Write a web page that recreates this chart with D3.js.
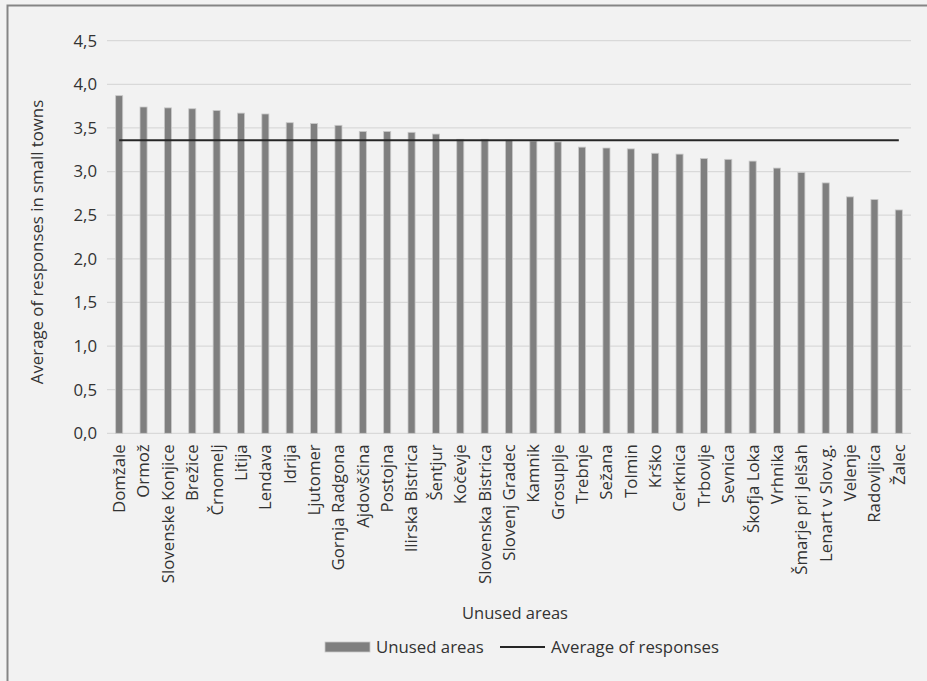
<!DOCTYPE html>
<html>
<head>
<meta charset="utf-8">
<script src="https://cdn.jsdelivr.net/npm/d3@7"></script>
<style>
  body { margin: 0; background: #fff; }
  svg { display: block; font-family: "Open Sans", "Noto Sans", sans-serif; }
</style>
</head>
<body>
<div id="chart"></div>
<script>
// Towns (x categories) and their average responses
const towns = ["Domžale", "Ormož", "Slovenske Konjice", "Brežice", "Črnomelj", "Litija", "Lendava",
    "Idrija", "Ljutomer", "Gornja Radgona", "Ajdovščina", "Postojna", "Ilirska Bistrica", "Šentjur",
    "Kočevje", "Slovenska Bistrica", "Slovenj Gradec", "Kamnik", "Grosuplje", "Trebnje", "Sežana",
    "Tolmin", "Krško", "Cerknica", "Trbovlje", "Sevnica", "Škofja Loka", "Vrhnika",
    "Šmarje pri Jelšah", "Lenart v Slov.g.", "Velenje", "Radovljica", "Žalec"];
const unusedAreas = [3.87, 3.74, 3.73, 3.72, 3.70, 3.67, 3.66, 3.56, 3.55, 3.53, 3.46, 3.46, 3.45, 3.43,
    3.37, 3.37, 3.36, 3.35, 3.34, 3.28, 3.27, 3.26, 3.21, 3.20, 3.15, 3.14, 3.12, 3.04,
    2.99, 2.87, 2.71, 2.68, 2.56];
const averageOfResponses = 3.36;
const yTicks = [0, 0.5, 1.0, 1.5, 2.0, 2.5, 3.0, 3.5, 4.0, 4.5];

const width = 927, height = 681;
const margin = { top: 40.7, left: 107, right: 16, bottom: 247.7 };
const fontSize = '16.8px';

const svg = d3.select('#chart')
    .append('svg')
    .attr('width', width)
    .attr('height', height);

// background and frame (top + left edge only)
svg.append('rect').attr('width', width).attr('height', height).attr('fill', '#f2f2f2');
svg.append('path')
    .attr('d', 'M7.5,' + height + 'V5.5H' + width)
    .attr('fill', 'none')
    .attr('stroke', '#858585')
    .attr('stroke-width', 2);

const x = d3.scaleBand()
    .domain(towns)
    .range([margin.left, width - margin.right])
    .paddingInner(0.71)
    .paddingOuter(0.355);

const y = d3.scaleLinear()
    .domain([0, 4.5])
    .range([height - margin.bottom, margin.top]);

const fmt = d => d3.format('.1f')(d).replace('.', ',');

// grid lines
svg.append('g')
    .selectAll('line')
    .data(yTicks)
    .join('line')
    .attr('x1', margin.left)
    .attr('x2', width - margin.right)
    .attr('y1', d => y(d))
    .attr('y2', d => y(d))
    .attr('stroke', '#d9d9d9')
    .attr('stroke-width', 1.3);

// y axis labels
const yAxis = svg.append('g')
    .attr('transform', 'translate(' + (margin.left - 10) + ',0)')
    .call(d3.axisLeft(y).tickValues(yTicks).tickFormat(fmt).tickSize(0).tickPadding(0));
yAxis.select('.domain').remove();
yAxis.selectAll('text')
    .style('font-size', fontSize)
    .style('fill', '#333')
    .style('font-family', '"Open Sans", sans-serif');

// bars
svg.append('g')
    .selectAll('rect')
    .data(towns)
    .join('rect')
    .attr('x', d => x(d))
    .attr('y', (d, i) => y(unusedAreas[i]))
    .attr('width', x.bandwidth())
    .attr('height', (d, i) => y(0) - y(unusedAreas[i]))
    .attr('fill', '#7f7f7f')
    .attr('stroke', '#c9c9c9')
    .attr('stroke-width', 0.8);

// average line across band centres
const avgLine = d3.line()
    .x(d => x(d) + x.bandwidth() / 2)
    .y(() => y(averageOfResponses));
svg.append('path')
    .datum(towns)
    .attr('d', avgLine)
    .attr('fill', 'none')
    .attr('stroke', '#262626')
    .attr('stroke-width', 2);

// x axis labels
const xAxis = svg.append('g')
    .attr('transform', 'translate(0,' + (y(0) + 11) + ')')
    .call(d3.axisBottom(x).tickSize(0).tickPadding(0));
xAxis.select('.domain').remove();
xAxis.selectAll('text')
    .attr('transform', 'rotate(-90)')
    .attr('x', 0)
    .attr('y', 0)
    .attr('dy', '0.35em')
    .style('text-anchor', 'end')
    .style('font-size', fontSize)
    .style('fill', '#333')
    .style('font-family', '"Open Sans", sans-serif');

// axis titles
svg.append('text')
    .attr('transform', 'translate(43,' + 242 + ') rotate(-90)')
    .attr('text-anchor', 'middle')
    .style('font-size', fontSize)
    .style('fill', '#333')
    .text('Average of responses in small towns');

svg.append('text')
    .attr('x', 515)
    .attr('y', 619)
    .attr('text-anchor', 'middle')
    .style('font-size', '16.5px')
    .style('fill', '#333')
    .text('Unused areas');

// legend
const legend = svg.append('g').attr('transform', 'translate(0,647)');
legend.append('rect')
    .attr('x', 325).attr('y', -5)
    .attr('width', 45).attr('height', 10)
    .attr('fill', '#7f7f7f')
    .attr('stroke', '#c9c9c9')
    .attr('stroke-width', 0.8);
legend.append('text')
    .attr('x', 376).attr('dy', '0.35em')
    .style('font-size', fontSize).style('fill', '#333')
    .text('Unused areas');
legend.append('line')
    .attr('x1', 500).attr('x2', 545)
    .attr('stroke', '#262626').attr('stroke-width', 2);
legend.append('text')
    .attr('x', 551).attr('dy', '0.35em')
    .style('font-size', fontSize).style('fill', '#333')
    .text('Average of responses');
</script>
</body>
</html>
